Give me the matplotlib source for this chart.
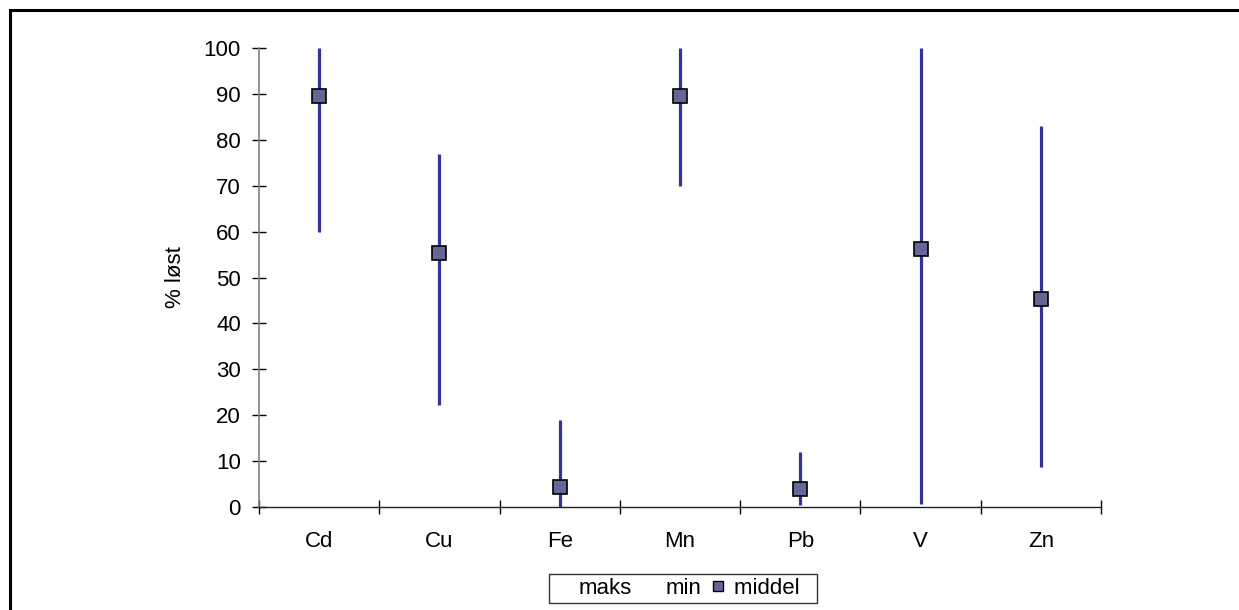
import matplotlib
matplotlib.use("Agg")
import matplotlib.pyplot as plt
from matplotlib.lines import Line2D

plt.rcParams['font.family'] = ['Liberation Sans', 'DejaVu Sans']

# data
categories = ['Cd', 'Cu', 'Fe', 'Mn', 'Pb', 'V', 'Zn']
maks = [100, 77, 19, 100, 12, 100, 83]
mins = [60, 22.3, 0, 70, 0.4, 0.6, 8.7]
middel = [89.6, 55.4, 4.3, 89.6, 4.0, 56.2, 45.3]
yticks = list(range(0, 101, 10))

fig = plt.figure(figsize=(12.39, 6.10), dpi=100)
ax = fig.add_axes([259 / 1239, 1 - 507 / 610, 842 / 1239, 459 / 610])

x = list(range(len(categories)))

# hi-lo lines
ax.vlines(x, mins, maks, color='#333399', lw=2.3, zorder=2, clip_on=False)
# mean markers
ax.plot(x, middel, linestyle='none', marker='s', markersize=9.5,
        markerfacecolor='#666699', markeredgecolor='black',
        markeredgewidth=1.2, zorder=3, clip_on=False)

ax.set_xlim(-0.5, len(categories) - 0.5)
ax.set_ylim(0, 100)

# ticks at category boundaries, labels centred
ax.set_xticks([i - 0.5 for i in range(len(categories) + 1)])
ax.set_xticklabels([])
ax.set_xticks(x, minor=True)
ax.set_xticklabels(categories, minor=True)
ax.tick_params(axis='x', which='major', direction='inout', length=10,
               width=1, color='black')
ax.tick_params(axis='x', which='minor', length=0, pad=17, labelsize=16)

ax.set_yticks(yticks)
ax.tick_params(axis='y', direction='inout', length=10, width=1,
               color='black', labelsize=16, pad=8)

for s in ['top', 'right']:
    ax.spines[s].set_visible(False)
ax.spines['left'].set_color('#808080')
ax.spines['left'].set_linewidth(1.2)
ax.spines['bottom'].set_color('#202020')
ax.spines['bottom'].set_linewidth(1.0)

ax.set_ylabel('% løst', fontsize=16)
ax.yaxis.set_label_coords(-0.087, 0.5)

# legend
handles = [
    Line2D([], [], linestyle='none'),
    Line2D([], [], linestyle='none'),
    Line2D([], [], linestyle='none', marker='s', markersize=7,
           markerfacecolor='#666699', markeredgecolor='black',
           markeredgewidth=1.0),
]
leg = fig.legend(handles, ['maks', 'min', 'middel  '], ncol=3,
                 loc='center', bbox_to_anchor=(683 / 1239, 1 - 588.5 / 610),
                 fontsize=16, frameon=True, fancybox=False,
                 handlelength=0.78, handletextpad=0.35, columnspacing=0.36,
                 borderpad=0.2, borderaxespad=0)
leg.get_frame().set_edgecolor('black')
leg.get_frame().set_linewidth(1.0)

# outer chart border (left and top visible)
fig.add_artist(Line2D([10 / 1239, 10 / 1239], [0, 1 - 9.5 / 610],
                      color='black', lw=2.2, transform=fig.transFigure))
fig.add_artist(Line2D([10 / 1239, 1], [1 - 9.5 / 610, 1 - 9.5 / 610],
                      color='black', lw=2.2, transform=fig.transFigure))

fig.savefig('out.png', dpi=100)
